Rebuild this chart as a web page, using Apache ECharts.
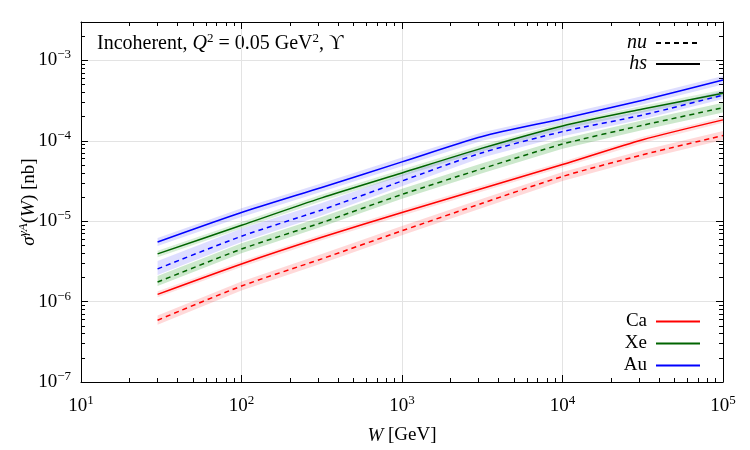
<!DOCTYPE html>
<html>
<head>
<meta charset="utf-8">
<script src="https://cdn.jsdelivr.net/npm/echarts@6/dist/echarts.min.js"></script>
<style>
  html, body { margin: 0; padding: 0; background: #fff; }
  #chart { width: 750px; height: 450px; }
</style>
</head>
<body>
<div id="chart"></div>
<script>
// W [GeV]
const W = [30, 100, 316, 1000, 3162, 10000, 31623, 100000]

// hs (solid) curves
const caHs = [1.23e-6, 2.94e-6, 6.3e-6, 1.28e-5, 2.55e-5, 5.06e-5, 1.03e-4, 1.82e-4]
const xeHs = [3.92e-6, 8.9e-6, 1.95e-5, 3.98e-5, 8.1e-5, 1.53e-4, 2.48e-4, 3.9e-4]
const auHs = [5.5e-6, 1.28e-5, 2.63e-5, 5.46e-5, 1.13e-4, 1.88e-4, 3.2e-4, 5.7e-4]
// nu (dashed) curves
const caNu = [5.87e-7, 1.56e-6, 3.4e-6, 7.6e-6, 1.67e-5, 3.6e-5, 6.7e-5, 1.16e-4]
const xeNu = [1.75e-6, 4.5e-6, 9.6e-6, 2.15e-5, 4.5e-5, 9.1e-5, 1.56e-4, 2.58e-4]
const auNu = [2.55e-6, 6.5e-6, 1.38e-5, 3.16e-5, 7.1e-5, 1.30e-4, 2.09e-4, 3.7e-4]

// uncertainty bands (lower / upper edge)
const caHsLo = [1.13e-6, 2.7e-6, 5.8e-6, 1.17e-5, 2.34e-5, 4.64e-5, 9.4e-5, 1.67e-4]
const caHsHi = [1.34e-6, 3.2e-6, 6.9e-6, 1.4e-5, 2.78e-5, 5.5e-5, 1.12e-4, 1.98e-4]
const xeHsLo = [3.56e-6, 8.1e-6, 1.77e-5, 3.62e-5, 7.4e-5, 1.39e-4, 2.25e-4, 3.55e-4]
const xeHsHi = [4.3e-6, 9.8e-6, 2.15e-5, 4.4e-5, 8.9e-5, 1.68e-4, 2.73e-4, 4.3e-4]
const auHsLo = [4.9e-6, 1.13e-5, 2.33e-5, 4.83e-5, 1.0e-4, 1.66e-4, 2.83e-4, 5.0e-4]
const auHsHi = [6.2e-6, 1.45e-5, 2.97e-5, 6.2e-5, 1.28e-4, 2.12e-4, 3.6e-4, 6.4e-4]
const caNuLo = [5.15e-7, 1.37e-6, 2.98e-6, 6.7e-6, 1.46e-5, 3.16e-5, 5.9e-5, 1.02e-4]
const caNuHi = [6.7e-7, 1.78e-6, 3.9e-6, 8.7e-6, 1.9e-5, 4.1e-5, 7.6e-5, 1.32e-4]
const xeNuLo = [1.56e-6, 4.0e-6, 8.5e-6, 1.9e-5, 3.95e-5, 7.95e-5, 1.36e-4, 2.24e-4]
const xeNuHi = [2.08e-6, 5.3e-6, 1.13e-5, 2.53e-5, 5.25e-5, 1.05e-4, 1.8e-4, 2.97e-4]
const auNuLo = [2.14e-6, 5.5e-6, 1.18e-5, 2.72e-5, 6.2e-5, 1.14e-4, 1.85e-4, 3.3e-4]
const auNuHi = [3.2e-6, 8.1e-6, 1.68e-5, 3.8e-5, 8.3e-5, 1.5e-4, 2.36e-4, 4.15e-4]

const xMin = 10, xMax = 1e5
const yMin = 1e-7, yMax = 3e-3

const RED = '#ff0000', GREEN = '#006400', BLUE = '#0000ff'
const serif = "'Liberation Serif', 'DejaVu Serif', serif"
const dash = [5, 4]

const chart = echarts.init(document.getElementById('chart'))

function pairs (ys) {
  return W.map((w, i) => [w, ys[i]])
}

// band drawn as one polygon through the axis scales
function band (lo, hi, fill) {
  return {
    type: 'custom',
    silent: true,
    z: 1,
    data: [0],
    renderItem (params, api) {
      const pts = []
      W.forEach((w, i) => pts.push(api.coord([w, hi[i]])))
      for (let i = W.length - 1; i >= 0; i--) pts.push(api.coord([W[i], lo[i]]))
      return {
        type: 'polygon',
        shape: { points: pts },
        style: { fill: fill },
        clipPath: {
          type: 'rect',
          shape: { x: params.coordSys.x, y: params.coordSys.y, width: params.coordSys.width, height: params.coordSys.height }
        }
      }
    }
  }
}

function line (name, ys, color, dashed) {
  return {
    name: name,
    type: 'line',
    z: 3,
    data: pairs(ys),
    symbol: 'none',
    showSymbol: false,
    smooth: 0.25,
    lineStyle: { color: color, width: 1.5, type: dashed ? dash : 'solid' },
    itemStyle: { color: color }
  }
}

function powLabel (v) {
  const e = Math.log10(v)
  if (Math.abs(e - Math.round(e)) > 1e-6) return ''
  return '{b|10}{s|' + String(Math.round(e)).replace('-', '−') + '}'
}
const labelRich = {
  b: { fontFamily: serif, fontSize: 19, color: '#000', lineHeight: 24 },
  s: { fontFamily: serif, fontSize: 13, color: '#000', verticalAlign: 'top', lineHeight: 15 }
}

const axisCommon = {
  type: 'log',
  logBase: 10,
  axisLine: { show: true, onZero: false, lineStyle: { color: '#000', width: 1 } },
  axisTick: { show: true, inside: true, length: 7, lineStyle: { color: '#000' } },
  minorTick: { show: true, splitNumber: 9, length: 4, lineStyle: { color: '#000' } },
  minorSplitLine: { show: false }
}

const legendCommon = {
  orient: 'vertical',
  right: 44,
  align: 'right',
  itemWidth: 44,
  itemHeight: 12,
  selectedMode: false,
  itemStyle: { opacity: 0 }
}

chart.setOption({
  animation: false,
  backgroundColor: '#fff',
  grid: { left: 81, right: 27, top: 22, bottom: 66 },
  xAxis: [
    Object.assign({}, axisCommon, {
      min: xMin, max: xMax,
      position: 'bottom',
      name: '{i|W} [GeV]',
      nameLocation: 'middle',
      nameGap: 44,
      nameTextStyle: { fontFamily: serif, fontSize: 19, color: '#000', rich: { i: { fontFamily: serif, fontSize: 19, fontStyle: 'italic' } } },
      axisLabel: { formatter: powLabel, rich: labelRich, margin: 12 },
      splitLine: { show: true, lineStyle: { color: '#e3e3e3', width: 1 } }
    }),
    Object.assign({}, axisCommon, {
      min: xMin, max: xMax,
      position: 'top',
      axisLabel: { show: false },
      splitLine: { show: false }
    })
  ],
  yAxis: [
    Object.assign({}, axisCommon, {
      min: yMin, max: yMax,
      position: 'left',
      name: '{i|σ}{s|γA}{r|(}{i|W}{r|) [nb]}',
      nameLocation: 'middle',
      nameRotate: 90,
      nameGap: 40,
      nameMoveOverlap: false,
      nameTextStyle: {
        fontFamily: serif, fontSize: 19, color: '#000',
        rich: {
          i: { fontFamily: serif, fontSize: 19, fontStyle: 'italic', lineHeight: 24 },
          r: { fontFamily: serif, fontSize: 19, lineHeight: 24 },
          s: { fontFamily: serif, fontSize: 13, fontStyle: 'italic', verticalAlign: 'top', lineHeight: 15 }
        }
      },
      axisLabel: { formatter: powLabel, rich: labelRich, margin: 10, showMaxLabel: false },
      splitLine: { show: true, showMaxLine: false, lineStyle: { color: '#e3e3e3', width: 1 } }
    }),
    Object.assign({}, axisCommon, {
      min: yMin, max: yMax,
      position: 'right',
      axisLabel: { show: false },
      splitLine: { show: false }
    })
  ],
  legend: [
    Object.assign({}, legendCommon, {
      data: ['nu', 'hs'],
      top: 28,
      itemGap: 1,
      textStyle: { fontFamily: serif, fontSize: 20, fontStyle: 'italic', color: '#000', padding: [0, 4, 0, 0] }
    }),
    Object.assign({}, legendCommon, {
      data: ['Ca', 'Xe', 'Au'],
      top: 307,
      itemGap: 3,
      textStyle: { fontFamily: serif, fontSize: 19, color: '#000', padding: [0, 4, 0, 0] }
    })
  ],
  graphic: [
    {
      type: 'text',
      left: 97,
      top: 32,
      style: {
        text: '{r|Incoherent, }{i|Q}{s|2}{r| = 0.05 GeV}{s|2}{r|, ϒ}',
        rich: {
          r: { fontFamily: serif, fontSize: 20, fill: '#000', lineHeight: 24 },
          i: { fontFamily: serif, fontSize: 20, fontStyle: 'italic', fill: '#000', lineHeight: 24 },
          s: { fontFamily: serif, fontSize: 13, fill: '#000', verticalAlign: 'top', lineHeight: 15 }
        }
      }
    }
  ],
  series: [
    band(caNuLo, caNuHi, 'rgba(255,0,0,0.15)'),
    band(caHsLo, caHsHi, 'rgba(255,0,0,0.12)'),
    band(xeNuLo, xeNuHi, 'rgba(0,140,0,0.2)'),
    band(xeHsLo, xeHsHi, 'rgba(0,140,0,0.15)'),
    band(auNuLo, auNuHi, 'rgba(0,0,255,0.13)'),
    band(auHsLo, auHsHi, 'rgba(0,0,255,0.13)'),
    line('Ca nu', caNu, RED, true),
    line('Xe nu', xeNu, GREEN, true),
    line('Au nu', auNu, BLUE, true),
    line('Ca', caHs, RED, false),
    line('Xe', xeHs, GREEN, false),
    line('Au', auHs, BLUE, false),
    { name: 'nu', type: 'line', data: [], symbol: 'none', lineStyle: { color: '#000', width: 1.5, type: dash }, itemStyle: { color: '#000' } },
    { name: 'hs', type: 'line', data: [], symbol: 'none', lineStyle: { color: '#000', width: 1.5 }, itemStyle: { color: '#000' } }
  ]
})
</script>
</body>
</html>
